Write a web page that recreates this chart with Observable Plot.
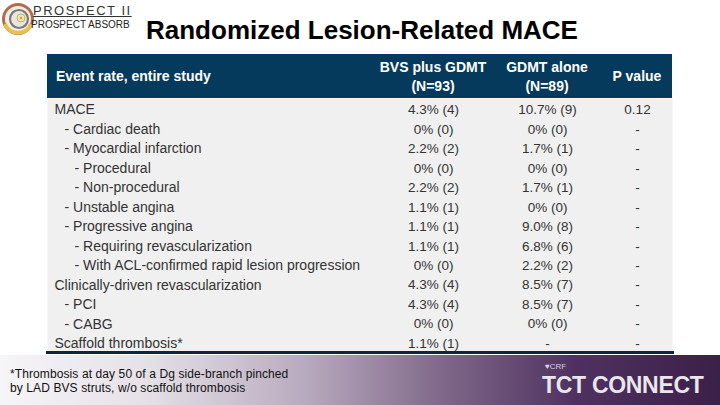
<!DOCTYPE html>
<html><head><meta charset="utf-8">
<script src="https://cdn.jsdelivr.net/npm/d3@7"></script>
<script src="https://cdn.jsdelivr.net/npm/@observablehq/plot@0.6"></script>
<style>
html,body{margin:0;padding:0;background:#fff;}
#root{position:relative;width:720px;height:405px;overflow:hidden;font-family:"Liberation Sans",Arial,sans-serif;background:#fff;}
.abs{position:absolute;white-space:nowrap;}
#title{left:146px;top:13px;font-size:26px;font-weight:bold;color:#000;line-height:34px;}
#logo1{left:33px;top:3px;font-size:13px;letter-spacing:1.5px;color:#333;line-height:16px;text-decoration:underline;text-decoration-thickness:1px;}
#logo2{left:31px;top:19px;font-size:10px;color:#222;line-height:12px;}
#header{left:47px;top:54px;width:625px;height:44px;background:#063a5c;}
.hd{position:absolute;color:#fff;font-weight:bold;font-size:14px;line-height:19px;text-align:center;transform:translateX(-50%);white-space:nowrap;}
#plotwrap{position:absolute;left:0;top:98px;line-height:0;}
#plotwrap svg{display:block;}
#footer{left:0;top:355px;width:720px;height:50px;background:linear-gradient(90deg,#f6f5f7 0%,#e6e1e8 20%,#b9abbf 42%,#7e6688 62%,#4e3160 80%,#3b2049 100%);}
#note{left:10px;top:368px;font-size:12px;letter-spacing:0.1px;line-height:13.5px;color:#111;}
#tct{left:542px;top:372px;font-size:23px;font-weight:bold;color:#e9e6ec;font-family:"Liberation Sans Narrow","Liberation Sans",Arial,sans-serif;letter-spacing:-0.3px;line-height:26px;}
#crf{left:545px;top:362px;font-size:8px;color:#d8d0de;line-height:9px;}
</style></head><body><div id="root"></div>
<script>
const titleText = "Randomized Lesion-Related MACE";
const stubHeader = "Event rate, entire study";
const columnHeaders = [["BVS plus GDMT", "(N=93)"], ["GDMT alone", "(N=89)"], ["P value"]];
const rowLabels = [
  "MACE",
  "- Cardiac death",
  "- Myocardial infarction",
  "- Procedural",
  "- Non-procedural",
  "- Unstable angina",
  "- Progressive angina",
  "- Requiring revascularization",
  "- With ACL-confirmed rapid lesion progression",
  "Clinically-driven revascularization",
  "- PCI",
  "- CABG",
  "Scaffold thrombosis*"
];
const rowLevels = [0, 1, 1, 2, 2, 1, 1, 2, 2, 0, 1, 1, 0];
const bvsValues = ["4.3% (4)", "0% (0)", "2.2% (2)", "0% (0)", "2.2% (2)", "1.1% (1)", "1.1% (1)", "1.1% (1)", "0% (0)", "4.3% (4)", "4.3% (4)", "0% (0)", "1.1% (1)"];
const gdmtValues = ["10.7% (9)", "0% (0)", "1.7% (1)", "0% (0)", "1.7% (1)", "0% (0)", "9.0% (8)", "6.8% (6)", "2.2% (2)", "8.5% (7)", "8.5% (7)", "0% (0)", "-"];
const pValues = ["0.12", "-", "-", "-", "-", "-", "-", "-", "-", "-", "-", "-", "-"];
const footnoteLines = ["*Thrombosis at day 50 of a Dg side-branch pinched", "by LAD BVS struts, w/o scaffold thrombosis"];

const rows = rowLabels.map((label, i) => ({i, label, level: rowLevels[i]}));
const valueColumns = [bvsValues, gdmtValues, pValues];
const cells = [];
valueColumns.forEach((vals, c) => vals.forEach((v, i) => cells.push({col: c, i, value: v})));

const root = document.getElementById("root");
function addDiv(id, cls, html) {
  const d = document.createElement("div");
  if (id) d.id = id;
  d.className = cls;
  d.innerHTML = html;
  root.appendChild(d);
  return d;
}

// logo
const logo = document.createElement("div");
logo.className = "abs";
logo.style.left = "1px"; logo.style.top = "2px";
logo.innerHTML = `<svg width="34" height="34" viewBox="0 0 34 34">
<circle cx="17" cy="17" r="14.5" fill="#f4efe6" stroke="#b46a4e" stroke-width="3"/>
<path d="M4 22 A14 14 0 0 0 30 22" fill="none" stroke="#e8c24a" stroke-width="4"/>
<circle cx="18" cy="17" r="9" fill="#e9e6e2" stroke="#7a7a7a" stroke-width="2.2"/>
<circle cx="20" cy="16" r="4" fill="#f3e7b8" stroke="#c9b25a" stroke-width="1"/>
<circle cx="20" cy="16" r="1.3" fill="#c9a030"/>
</svg>`;
root.appendChild(logo);
addDiv("logo1", "abs", "PROSPECT II");
addDiv("logo2", "abs", "PROSPECT ABSORB");
addDiv("title", "abs", titleText);

// header band
const header = addDiv("header", "abs", "");

const plot = Plot.plot({
  width: 720,
  height: 257,
  marginTop: 0,
  marginBottom: 3,
  marginLeft: 47,
  marginRight: 48,
  x: {type: "linear", domain: [0, 1, 2], range: [433, 547, 637], axis: null},
  y: {type: "point", domain: d3.range(rows.length), padding: 0, round: false, insetTop: 11.5, insetBottom: 9, axis: null},
  style: {fontFamily: "'Liberation Sans', Arial, sans-serif", background: "transparent", overflow: "visible"},
  marks: [
    Plot.frame({fill: "#f0f0f0", stroke: null}),
    Plot.frame({anchor: "bottom", stroke: "#0b2740", strokeWidth: 3}),
    ...[0, 1, 2].map(l => Plot.text(rows.filter(r => r.level === l), {
      y: "i", text: "label", frameAnchor: "left", textAnchor: "start",
      dx: 7 + l * 10, fontSize: 14, fill: "#333"
    })),
    Plot.text(cells, {x: "col", y: "i", text: "value", fontSize: 13.5, fill: "#333", letterSpacing: -0.3})
  ]
});
const wrap = document.createElement("div");
wrap.id = "plotwrap";
wrap.appendChild(plot);
root.appendChild(wrap);

// header texts positioned with the plot's x scale
const xs = plot.scale("x");
const stub = document.createElement("div");
stub.className = "hd";
stub.style.transform = "none";
stub.style.left = "9px";
stub.style.top = "13px";
stub.textContent = stubHeader;
header.appendChild(stub);
columnHeaders.forEach((lines, c) => {
  const d = document.createElement("div");
  d.className = "hd";
  d.style.left = (xs.apply(c) - 47) + "px";
  d.style.top = lines.length > 1 ? "4px" : "13px";
  d.innerHTML = lines.join("<br>");
  header.appendChild(d);
});

// footer
addDiv("footer", "abs", "");
addDiv("note", "abs", footnoteLines.join("<br>"));
addDiv("crf", "abs", "&#9829;CRF");
addDiv("tct", "abs", "TCT CONNECT");
</script>
</body></html>
